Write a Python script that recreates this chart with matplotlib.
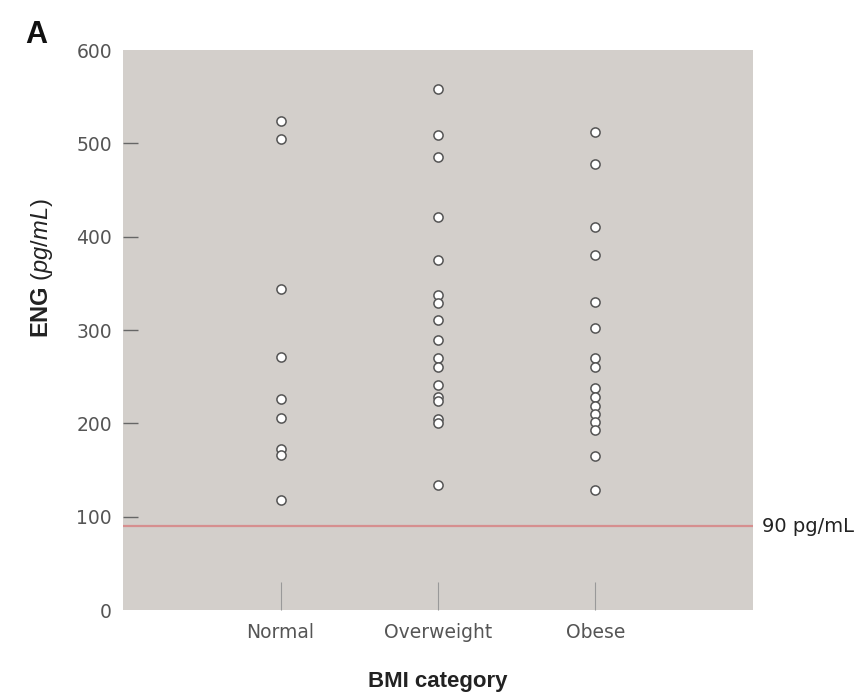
import matplotlib
matplotlib.use("Agg")
import matplotlib.pyplot as plt

categories = ["Normal", "Overweight", "Obese"]
normal = [524, 505, 344, 271, 226, 206, 173, 166, 118]
overweight = [558, 509, 485, 421, 375, 337, 329, 311, 289, 270, 260, 241, 228, 224, 205, 200, 134]
obese = [512, 478, 410, 380, 330, 302, 270, 260, 238, 228, 219, 210, 201, 193, 165, 129]
series = [normal, overweight, obese]
yticks = [0, 100, 200, 300, 400, 500, 600]
threshold = 90
threshold_label = "90 pg/mL"

plt.rcParams["font.family"] = ["Liberation Sans", "DejaVu Sans"]
plt.rcParams["mathtext.fontset"] = "custom"
plt.rcParams["mathtext.rm"] = "Liberation Sans"
plt.rcParams["mathtext.bf"] = "Liberation Sans:bold"
plt.rcParams["mathtext.it"] = "Liberation Sans:italic"

tickfont = dict(family="DejaVu Sans", size=13.5, color="#555555")

fig = plt.figure(figsize=(8.64, 6.94), dpi=100)
ax = fig.add_axes([123 / 864, 1 - 610 / 694, 630 / 864, 560 / 694])
ax.set_facecolor("#d3cfcb")
for s in ax.spines.values():
    s.set_visible(False)

for i, vals in enumerate(series):
    ax.plot([i + 1] * len(vals), vals, linestyle="none", marker="o",
            markersize=6.6, markerfacecolor="white", markeredgecolor="#555555",
            markeredgewidth=1.1, zorder=3)

ax.axhline(threshold, color="#d68f8f", linewidth=1.6, zorder=2)
ax.text(1.015, threshold, threshold_label, transform=ax.get_yaxis_transform(),
        va="center", ha="left", family="DejaVu Sans", fontsize=14, color="#222222")

ax.set_xlim(0, 4)
ax.set_ylim(0, 600)
ax.set_xticks([1, 2, 3])
ax.set_xticklabels(categories, fontdict=tickfont)
ax.set_yticks(yticks)
ax.set_yticklabels([str(v) for v in yticks], fontdict=tickfont)
ax.tick_params(axis="x", direction="in", length=20, width=0.8, color="#999999", pad=9)
ax.tick_params(axis="y", direction="in", length=11, width=1.0, color="#666666", pad=8)
ticks = ax.yaxis.get_major_ticks()
ticks[0].tick1line.set_visible(False)
ticks[-1].tick1line.set_visible(False)

ax.set_xlabel("BMI category", fontsize=16, fontweight="bold", color="#222222", labelpad=21)
ax.set_ylabel(r"$\mathbf{ENG}\ \mathit{(pg/mL)}$", fontsize=17, color="#222222")
ax.yaxis.set_label_coords(-0.108, 0.61)

fig.text(25 / 864, 1 - 43 / 694, "A", fontsize=22, fontweight="bold", color="#111111")

fig.savefig("out.png", dpi=100, facecolor="white")
